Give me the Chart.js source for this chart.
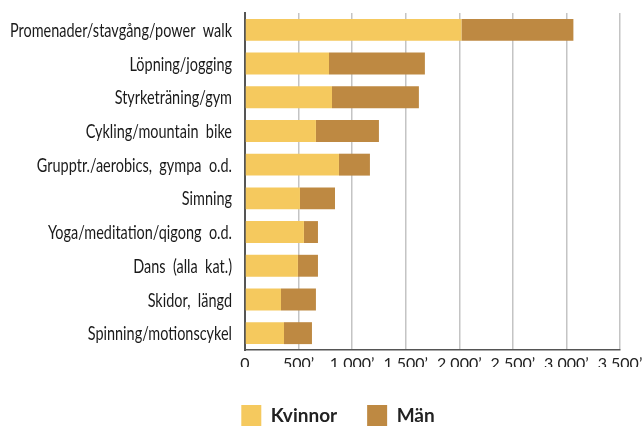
<!DOCTYPE html>
<html>
<head>
<meta charset="utf-8">
<script src="https://cdn.jsdelivr.net/npm/chart.js@4.4.1/dist/chart.umd.min.js"></script>
<style>
  html, body { margin: 0; padding: 0; background: #fff; }
  #wrap { width: 644px; height: 428px; }
</style>
</head>
<body>
<div id="wrap"><canvas id="chart"></canvas></div>
<script>
// Aktiviteter (kategorier)
const categories = [
  'Promenader/stavgång/power  walk',
  'Löpning/jogging',
  'Styrketräning/gym',
  'Cykling/mountain  bike',
  'Grupptr./aerobics,  gympa  o.d.',
  'Simning',
  'Yoga/meditation/qigong  o.d.',
  'Dans  (alla  kat.)',
  'Skidor,  längd',
  'Spinning/motionscykel'
];

// Serier
const kvinnor = [2020, 784, 812, 662, 877, 513, 550, 494, 336, 364];
const man = [1045, 895, 811, 588, 289, 327, 131, 187, 326, 261];

// Tick-värden på x-axeln
const xTicks = [0, 500, 1000, 1500, 2000, 2500, 3000, 3500];

const YELLOW = '#F5C95E';
const BROWN = '#BE8942';
const LABEL_FONT = '19px Lato, "Liberation Sans", sans-serif';
const LONGEST_LABEL_PX = 222; // smal (condensed) stil som i originalet

function formatTick(v) {
  if (v === 0) return '0';
  return String(v).replace(/\B(?=(\d{3})+(?!\d))/g, ' ') + '’';
}

// flyttar legenden lite åt höger och nedåt
const legendNudge = {
  id: 'legendNudge',
  afterLayout(chart) {
    const lg = chart.legend;
    if (!lg) return;
    lg.left += 32;
    lg.top += 8;
    lg.bottom += 8;
  }
};

// kategorietiketter, ihoptryckta horisontellt
const yLabels = {
  id: 'yLabels',
  afterDraw(chart) {
    const ctx = chart.ctx;
    const sy = chart.scales.y;
    ctx.save();
    ctx.font = LABEL_FONT;
    const squeeze = LONGEST_LABEL_PX / ctx.measureText(categories[0]).width;
    ctx.fillStyle = '#1a1a1a';
    ctx.textAlign = 'right';
    ctx.textBaseline = 'middle';
    const x = sy.right - 13;
    categories.forEach((label, i) => {
      ctx.save();
      ctx.translate(x, sy.getPixelForValue(i) + 1);
      ctx.scale(squeeze, 1);
      ctx.fillText(label, 0, 0);
      ctx.restore();
    });
    ctx.restore();
  }
};

new Chart(document.getElementById('chart'), {
  type: 'bar',
  data: {
    labels: categories,
    datasets: [
      { label: 'Kvinnor', data: kvinnor, backgroundColor: YELLOW, barPercentage: 0.65, categoryPercentage: 1 },
      { label: 'Män', data: man, backgroundColor: BROWN, barPercentage: 0.65, categoryPercentage: 1 }
    ]
  },
  options: {
    indexAxis: 'y',
    responsive: true,
    maintainAspectRatio: false,
    animation: false,
    layout: { padding: { top: 13, right: 0, bottom: 0, left: 0 } },
    plugins: {
      tooltip: { enabled: false },
      legend: {
        position: 'bottom',
        labels: {
          boxWidth: 20,
          boxHeight: 21,
          padding: 30,
          color: '#222',
          font: { family: 'Lato, "Liberation Sans", sans-serif', size: 19, weight: 'bold' }
        }
      }
    },
    scales: {
      x: {
        stacked: true,
        min: 0,
        max: 3500,
        afterBuildTicks(scale) {
          scale.ticks = xTicks.map(v => ({ value: v }));
        },
        afterFit(scale) {
          scale.height = 17;
          scale.paddingRight = 24;
        },
        border: { display: true, color: '#555', width: 1.5 },
        grid: { color: '#c4c4c4', lineWidth: 1.5, drawTicks: false },
        ticks: {
          padding: 4,
          color: '#222',
          maxRotation: 0,
          font: { family: 'Lato, "Liberation Sans", sans-serif', size: 16 },
          callback: v => formatTick(v)
        }
      },
      y: {
        stacked: true,
        afterFit(scale) { scale.width = 245; },
        border: { display: true, color: '#555', width: 2 },
        grid: { display: false, drawTicks: false },
        ticks: { display: false }
      }
    }
  },
  plugins: [legendNudge, yLabels]
});
</script>
</body>
</html>
